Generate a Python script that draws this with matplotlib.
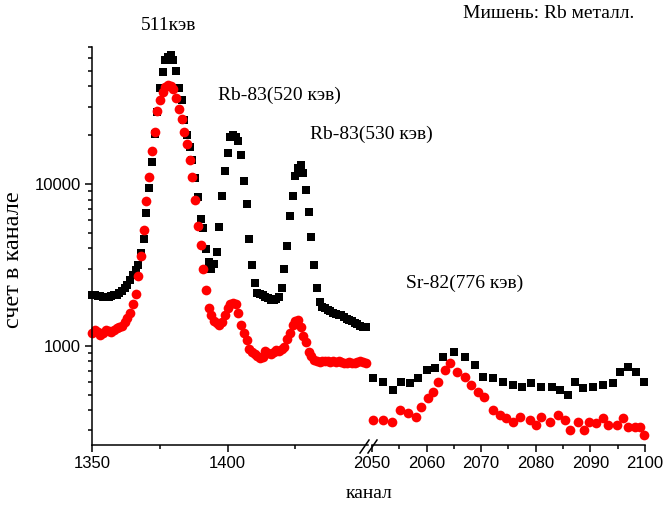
import numpy as np
import matplotlib.pyplot as plt
from matplotlib.ticker import NullFormatter

# --- data ---
# left part of the axis: channels 1350-1451, one point per channel
chan_left = np.arange(1350, 1452)
black_left = [2050, 2060, 2040, 2020, 2000, 2000, 2010, 2030, 2050, 2070,
              2120, 2180, 2260, 2370, 2550, 2730, 2950, 3150, 3720, 4560,
              6560, 9370, 13700, 20200, 27800, 38800, 49100, 58000, 60800, 62300,
              58000, 49600, 38800, 32900, 24700, 20000, 16900, 14000, 10800, 8300,
              6100, 5300, 3950, 3300, 3000, 3200, 3800, 5400, 8400, 12000,
              15600, 19500, 20000, 19500, 18400, 15000, 10400, 7500, 4540, 3150,
              2450, 2110, 2080, 2060, 2000, 1960, 1930, 1915, 1950, 2010,
              2260, 3000, 4130, 6350, 8400, 11200, 12500, 13000, 11700, 9140,
              6660, 4710, 3150, 2260, 1870, 1740, 1700, 1660, 1630, 1600,
              1580, 1560, 1545, 1500, 1470, 1450, 1420, 1380, 1360, 1320,
              1310, 1300]
red_left = [1200, 1250, 1220, 1170, 1200, 1250, 1230, 1220, 1250, 1280,
            1300, 1330, 1400, 1480, 1600, 1800, 2100, 2700, 3600, 5200,
            7800, 11000, 16000, 21000, 28000, 33000, 37000, 39500, 40600, 40000,
            38500, 34000, 29000, 25000, 21000, 17500, 14000, 11000, 8000, 5500,
            4200, 3000, 2200, 1700, 1550, 1420, 1380, 1340, 1400, 1550,
            1700, 1800, 1850, 1820, 1600, 1350, 1200, 1080, 960, 920,
            890, 860, 840, 850, 930, 900, 890, 920, 940, 930,
            950, 980, 1100, 1200, 1350, 1420, 1440, 1300, 1150, 1050,
            920, 860, 820, 800, 790, 800, 810, 800, 790, 800,
            790, 800, 795, 780, 780, 790, 785, 780, 790, 800,
            790, 780]

# right part of the axis: channels 2050-2100
chan_right_black = [2050.2, 2052.0, 2053.8, 2055.4, 2056.9, 2058.4, 2060.0, 2061.5,
                    2063.0, 2065.1, 2067.0, 2068.8, 2070.3, 2072.2, 2074.0, 2075.8,
                    2077.4, 2079.2, 2081.0, 2082.9, 2084.4, 2085.9, 2087.1, 2088.6,
                    2090.5, 2092.3, 2094.1, 2095.4, 2096.9, 2098.4, 2099.9]
black_right = [629, 599, 533, 599, 586, 629, 708, 725, 855, 918, 855, 760, 644,
               629, 599, 572, 558, 586, 558, 558, 533, 496, 599, 546, 558, 572,
               586, 691, 742, 691, 599]
chan_right_red = [2050.2, 2052.0, 2053.6, 2055.1, 2056.6, 2058.1, 2059.0, 2060.3,
                  2061.2, 2062.1, 2063.3, 2064.2, 2065.5, 2067.0, 2068.2, 2069.4,
                  2070.6, 2072.2, 2073.4, 2074.6, 2075.8, 2077.1, 2078.9, 2080.1,
                  2081.0, 2082.6, 2084.1, 2085.3, 2086.2, 2087.7, 2088.9, 2089.8,
                  2091.1, 2092.3, 2093.2, 2094.8, 2096.0, 2096.9, 2098.1, 2099.0,
                  2099.9]
red_right = [348, 348, 340, 401, 383, 365, 420, 473, 520, 600, 708, 779, 691,
             644, 572, 520, 484, 401, 373, 356, 340, 365, 348, 324, 365, 340,
             373, 348, 302, 340, 302, 340, 332, 356, 324, 324, 356, 316, 316,
             316, 281]

W, H = 667, 509
fig = plt.figure(figsize=(W / 100, H / 100), dpi=100)
ax1 = fig.add_axes([0.1384, 0.1263, 0.4138, 0.7814])
ax2 = fig.add_axes([0.5577, 0.1263, 0.4093, 0.7814], sharey=ax1)

for ax, cb, yb, cr, yr in [(ax1, chan_left, black_left, chan_left, red_left),
                           (ax2, chan_right_black, black_right, chan_right_red, red_right)]:
    ax.plot(cb, yb, 's', color='black', ms=6.2, mew=0, clip_on=False)
    ax.plot(cr, yr, 'o', color='red', ms=7.0, mew=0, clip_on=False)
    ax.spines['top'].set_visible(False)
    ax.spines['right'].set_visible(False)
    ax.spines['bottom'].set_linewidth(1.1)
    ax.spines['left'].set_linewidth(1.1)
    ax.tick_params(which='major', direction='out', length=5, width=1.1,
                   labelsize=12, pad=3)
    ax.tick_params(which='minor', direction='out', length=3, width=1.1)

ax1.set_yscale('log')
ax1.set_ylim(245, 70000)
ax1.set_yticks([1000, 10000])
ax1.set_yticklabels(['1000', '10000'], fontfamily='Liberation Sans', fontsize=12)
minor_y = [300, 400, 500, 600, 700, 800, 900,
           2000, 3000, 4000, 5000, 6000, 7000, 8000, 9000,
           20000, 30000, 40000, 50000, 60000, 70000]
ax1.set_yticks(minor_y, minor=True)
ax1.yaxis.set_minor_formatter(NullFormatter())

ax1.set_xlim(1350, 1452)
ax1.set_xticks([1350, 1400])
ax1.set_xticklabels(['1350', '1400'], fontfamily='Liberation Sans', fontsize=12)
ax1.set_xticks([1375, 1425], minor=True)

ax2.set_xlim(2050, 2100)
ax2.set_xticks(range(2050, 2101, 10))
ax2.set_xticklabels([str(v) for v in range(2050, 2101, 10)],
                    fontfamily='Liberation Sans', fontsize=12)
ax2.set_xticks(range(2055, 2100, 10), minor=True)
ax2.spines['left'].set_visible(False)
ax2.tick_params(axis='y', which='both', left=False, labelleft=False)

# break marks on the x axis
def px(x, y):
    return x / W, 1 - y / H

for x0 in (360, 368):
    (a, b), (c, d) = px(x0, 453), px(x0 + 9, 440)
    fig.add_artist(plt.Line2D([a, c], [b, d], color='black', lw=1.1))

# labels and annotations
serif = 'Liberation Serif'
fig.text(*px(369, 494), 'канал', ha='center', va='center', fontsize=14, family=serif)
fig.text(*px(14, 260), 'счет в канале', ha='center', va='center', rotation=90,
         fontsize=17.5, family=serif)
fig.text(*px(169, 26), '511кэв', ha='center', va='center', fontsize=14, family=serif)
fig.text(*px(279, 95), 'Rb-83(520 кэв)', ha='center', va='center', fontsize=14, family=serif)
fig.text(*px(371, 134), 'Rb-83(530 кэв)', ha='center', va='center', fontsize=14, family=serif)
fig.text(*px(465, 283), 'Sr-82(776 кэв)', ha='center', va='center', fontsize=14, family=serif)
fig.text(*px(549, 14), 'Мишень: Rb металл.', ha='center', va='center', fontsize=14, family=serif)

fig.savefig('out.png', dpi=100)
